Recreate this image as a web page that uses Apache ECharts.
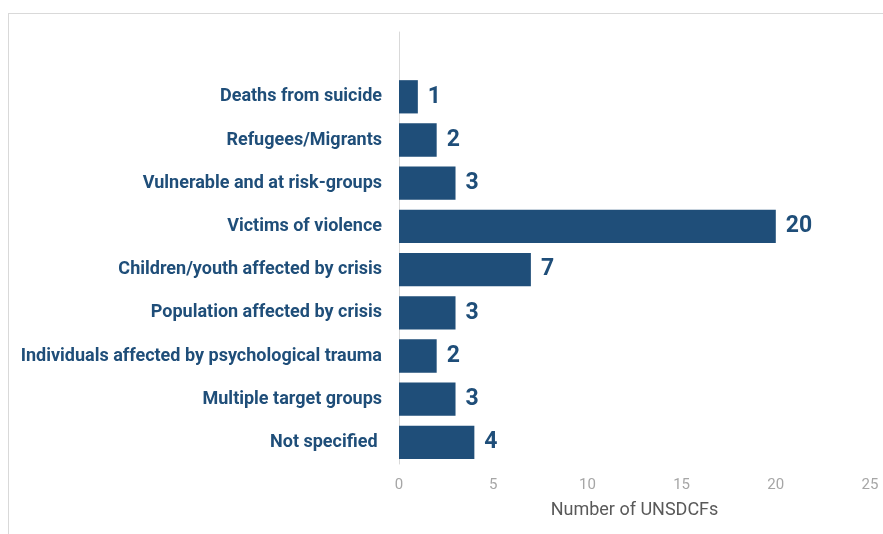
<!DOCTYPE html>
<html>
<head>
<meta charset="utf-8">
<script src="https://cdn.jsdelivr.net/npm/echarts@6/dist/echarts.min.js"></script>
<style>
  html, body { margin: 0; padding: 0; background: #fff; }
  #frame { position: absolute; left: 8px; top: 13px; width: 900px; height: 560px;
           border-left: 1.5px solid #d9d9d9; border-top: 1.5px solid #d9d9d9; box-sizing: border-box; }
  #chart { position: absolute; left: 0; top: 0; width: 883px; height: 534px; }
</style>
</head>
<body>
<div id="frame"></div>
<div id="chart"></div>
<script>
// Target groups, listed bottom to top (the blank entry leaves room above the first bar)
const categories = [
  'Not specified ',
  'Multiple target groups',
  'Individuals affected by psychological trauma',
  'Population affected by crisis',
  'Children/youth affected by crisis',
  'Victims of violence',
  'Vulnerable and at risk-groups',
  'Refugees/Migrants',
  'Deaths from suicide',
  ''
];
const counts = [4, 3, 2, 3, 7, 20, 3, 2, 1, null];
const xTicks = [0, 5, 10, 15, 20, 25];
const axisTitle = 'Number of UNSDCFs';

const navy = '#1f4e79';
const chart = echarts.init(document.getElementById('chart'), null, { renderer: 'canvas' });
chart.setOption({
  animation: false,
  backgroundColor: 'transparent',
  textStyle: { fontFamily: 'Roboto' },
  grid: { left: 399, right: 13, top: 32, bottom: 70, containLabel: false },
  xAxis: {
    type: 'value',
    min: xTicks[0],
    max: xTicks[xTicks.length - 1],
    interval: xTicks[1] - xTicks[0],
    axisLine: { show: false },
    axisTick: { show: false },
    splitLine: { show: false },
    axisLabel: { color: '#a6a6a6', fontSize: 15, margin: 14, fontFamily: 'Roboto' },
    name: axisTitle,
    nameLocation: 'middle',
    nameGap: 37,
    nameTextStyle: { color: '#595959', fontSize: 18, fontFamily: 'Roboto' }
  },
  yAxis: {
    type: 'category',
    data: categories,
    axisLine: { show: true, lineStyle: { color: '#d9d9d9', width: 1 } },
    axisTick: { show: false },
    axisLabel: { color: navy, fontSize: 18, fontWeight: 'bold', margin: 17, fontFamily: 'Roboto' }
  },
  series: [{
    type: 'bar',
    data: counts,
    barWidth: '77%',
    itemStyle: { color: navy },
    label: {
      show: true,
      position: 'right',
      distance: 10,
      color: navy,
      fontSize: 23,
      fontWeight: 'bold',
      fontFamily: 'Roboto'
    }
  }]
});
</script>
</body>
</html>
